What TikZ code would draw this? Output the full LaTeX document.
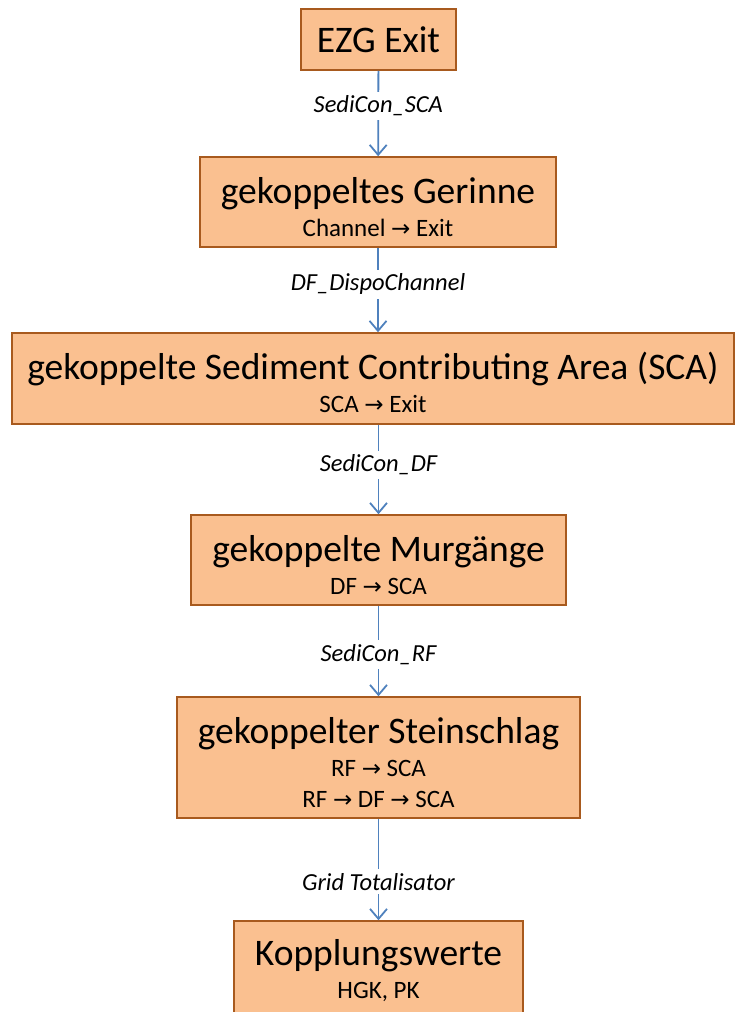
\documentclass[tikz,border=0pt]{standalone}
\usepackage{fontspec}
\setmainfont{Carlito}
\newfontfamily\arrowfont{DejaVu Sans}
\usetikzlibrary{arrows.meta}
\definecolor{stagefill}{HTML}{FAC090}
\definecolor{stageedge}{HTML}{A85A1E}
\definecolor{linkblue}{HTML}{4F81BD}
\newcommand{\rarr}{{\arrowfont\fontsize{23}{23}\selectfont →}}
\newcommand{\stagename}[1]{{\fontsize{37.5}{37.5}\selectfont #1}}
\newcommand{\heading}[1]{{\fontsize{37.5}{37.5}\selectfont\rule{0pt}{36pt}#1}}
\tikzset{
  stage/.style={draw=stageedge, fill=stagefill, line width=1.5pt, align=center,
    inner sep=0pt, font=\fontsize{25}{31}\selectfont},
  link/.style={draw=linkblue, line width=1.8pt,
    -{Straight Barb[length=10pt,width=17pt,line width=1.8pt]}},
  linklabel/.style={fill=white, inner sep=4pt, font=\fontsize{24.5}{24.5}\selectfont\itshape}
}

\begin{document}
\begin{tikzpicture}[x=1pt,y=-1pt]
  \useasboundingbox (0,0) rectangle (735,1012);

  % stages
  \node[stage, minimum width=155pt, minimum height=61pt] (ezg) at (378.5,39.5)
    {\stagename{EZG Exit}};
  \node[stage, minimum width=356pt, minimum height=90pt] (gerinne) at (378,202)
    {\heading{gekoppeltes Gerinne}\\[2pt] Channel \rarr{} Exit};
  \node[stage, minimum width=722pt, minimum height=91pt] (sca) at (373,378.5)
    {\heading{gekoppelte Sediment Contributing Area (SCA)}\\[2pt] SCA \rarr{} Exit};
  \node[stage, minimum width=375pt, minimum height=90pt] (murgang) at (378.5,560)
    {\heading{gekoppelte Murgänge}\\[2pt] DF \rarr{} SCA};
  \node[stage, minimum width=403pt, minimum height=121pt] (steinschlag) at (378.5,757.5)
    {\heading{gekoppelter Steinschlag}\\[2pt] RF \rarr{} SCA\\ RF \rarr{} DF \rarr{} SCA};
  \node[stage, minimum width=289pt, minimum height=100pt] (kopplung) at (378.5,971)
    {\stagename{Kopplungswerte}\\[2pt] HGK, PK};

  % links
  \draw[link] (ezg) -- node[linklabel, pos=0.41] {SediCon\_SCA} (gerinne);
  \draw[link] (gerinne.south) -- node[linklabel, pos=0.43] {DF\_DispoChannel}
    (gerinne.south |- sca.north);
  \draw[link] (murgang.north |- sca.south) -- node[linklabel, pos=0.45] {SediCon\_DF}
    (murgang);
  \draw[link] (murgang) -- node[linklabel, pos=0.54] {SediCon\_RF} (steinschlag);
  \draw[link] (steinschlag) -- node[linklabel, pos=0.62] {Grid Totalisator} (kopplung);
\end{tikzpicture}
\end{document}
